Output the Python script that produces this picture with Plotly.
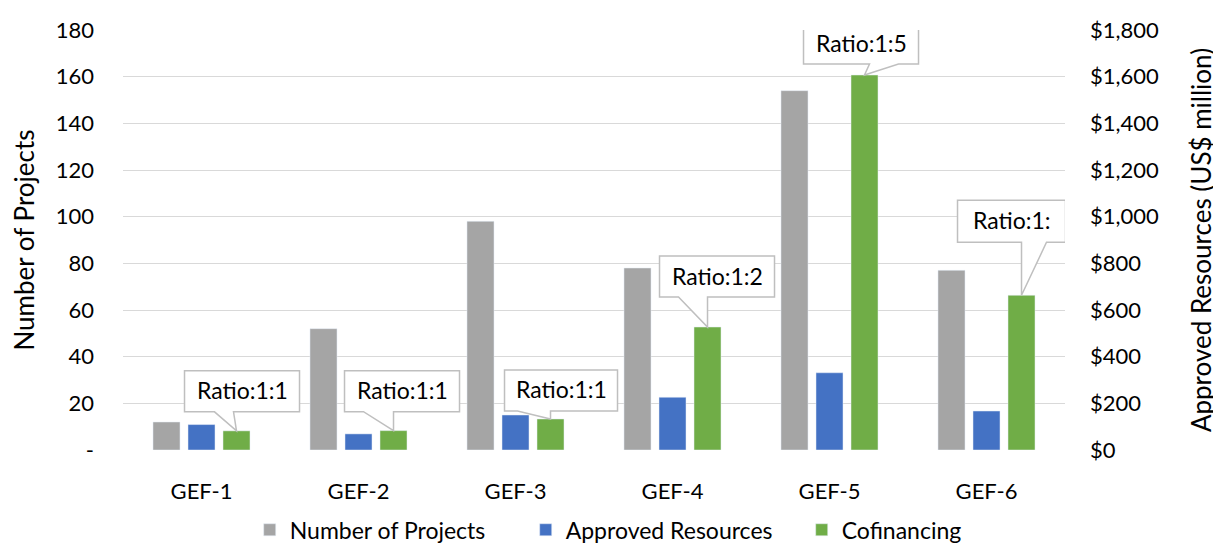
import plotly.graph_objects as go

categories = ["GEF-1", "GEF-2", "GEF-3", "GEF-4", "GEF-5", "GEF-6"]
num_projects = [12, 52, 98, 78, 154, 77]
approved_resources = [109, 69, 150, 226, 331, 167]
cofinancing = [82, 83, 133, 527, 1607, 663]
ratio_labels = ["Ratio:1:1", "Ratio:1:1", "Ratio:1:1", "Ratio:1:2", "Ratio:1:5", "Ratio:1:"]

left_ticks = [0, 20, 40, 60, 80, 100, 120, 140, 160, 180]
left_ticktext = ["-", "20", "40", "60", "80", "100", "120", "140", "160", "180"]
right_ticks = [0, 200, 400, 600, 800, 1000, 1200, 1400, 1600, 1800]
right_ticktext = [f"${v:,}" for v in right_ticks]

# callout geometry in pixels relative to the bar top (left, right, top, bottom, wedge base a, wedge base b)
callouts = [
    (-52, 63, 60, 19, -22, -3),
    (-49, 66, 60, 19, -30, 0),
    (-46, 67, 49, 8, -33, 0),
    (-48, 67, 71, 30, -29, 0),
    (-61, 54, 52, 11, 5, 34),
    (-64, 44, 95, 53, 0, 25),
]

FONT = "Lato"
W = 0.172
OFF = 0.223
xs = list(range(len(categories)))

fig = go.Figure()
fig.add_trace(go.Bar(name="Number of Projects", x=xs, y=num_projects, marker_color="#A5A5A5",
                     width=W, offset=-OFF - W / 2, yaxis="y"))
fig.add_trace(go.Bar(name="Approved Resources", x=xs, y=approved_resources, marker_color="#4472C4",
                     width=W, offset=-W / 2, yaxis="y2"))
fig.add_trace(go.Bar(name="Cofinancing", x=xs, y=cofinancing, marker_color="#70AD47",
                     width=W, offset=OFF - W / 2, yaxis="y2"))

shapes = []
annotations = []
for i, (val, lab, c) in enumerate(zip(cofinancing, ratio_labels, callouts)):
    l, r, t, b, wa, wb = c
    path = f"M {l},{t} L {r},{t} L {r},{b} L {wb},{b} L 0,0 L {wa},{b} L {l},{b} Z"
    shapes.append(dict(type="path", xref="x", yref="y2", xsizemode="pixel", ysizemode="pixel",
                       xanchor=i + OFF, yanchor=val, path=path,
                       fillcolor="white", line=dict(color="#BFBFBF", width=1.5), layer="above"))
    annotations.append(dict(x=i + OFF, y=val, xref="x", yref="y2", text=lab, showarrow=False,
                            xanchor="center", yanchor="middle",
                            xshift=(l + r) / 2, yshift=(t + b) / 2 + 1,
                            font=dict(family=FONT, size=23, color="#000000")))

fig.update_layout(
    width=1221, height=544,
    margin=dict(l=115, r=164, t=22, b=102, autoexpand=False),
    paper_bgcolor="white", plot_bgcolor="white",
    font=dict(family=FONT, size=22, color="#000000"),
    barmode="overlay",
    showlegend=True,
    legend=dict(orientation="h", x=0.574, xanchor="center", y=-0.19, yanchor="middle",
                font=dict(family=FONT, size=23), traceorder="normal", itemwidth=30,
                entrywidth=231, entrywidthmode="pixels"),
    xaxis=dict(range=[-0.5, 5.5], tickvals=xs, ticktext=categories, showgrid=False,
               zeroline=False, showline=False, ticks="", ticklabelstandoff=26,
               tickfont=dict(family=FONT, size=22)),
    yaxis=dict(range=[0, 180], tickvals=left_ticks, ticktext=left_ticktext, showgrid=True,
               gridcolor="#D9D9D9", gridwidth=1.3, zeroline=False, showline=False, ticks="",
               ticklabelstandoff=28, tickfont=dict(family=FONT, size=22),
               title=dict(text="Number of Projects", font=dict(family=FONT, size=26), standoff=14)),
    yaxis2=dict(range=[0, 1800], tickvals=right_ticks, ticktext=right_ticktext,
                overlaying="y", side="right", showgrid=False, zeroline=False, showline=False,
                ticks="", ticklabelstandoff=24, tickfont=dict(family=FONT, size=22),
                title=dict(text="Approved Resources (US$ million)", font=dict(family=FONT, size=26),
                           standoff=34)),
    shapes=shapes,
    annotations=annotations,
)

fig.write_html("out.html")
